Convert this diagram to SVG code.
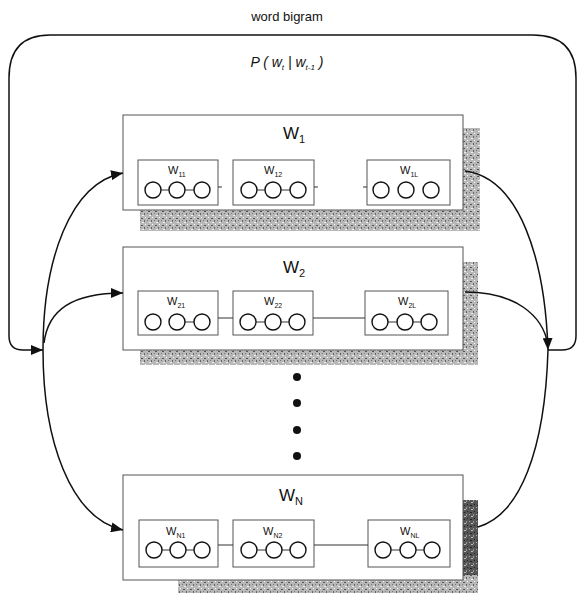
<svg xmlns="http://www.w3.org/2000/svg" width="579" height="593" viewBox="0 0 579 593">
<style>
.frame{fill:#fff;stroke:#555;stroke-width:1}
.sub{fill:#fff;stroke:#555;stroke-width:1}
.c{fill:#fff;stroke:#111;stroke-width:1.4}
.ln{stroke:#333;stroke-width:1;fill:none}
.conn{fill:none;stroke:#111;stroke-width:1.5}
.t{font-family:"Liberation Sans",Arial,sans-serif;fill:#111}
.big{font-size:17px}
.small{font-size:11px}
.dot{fill:#111}
</style>
<defs>
<marker id="ah" markerUnits="userSpaceOnUse" markerWidth="13" markerHeight="10" refX="12" refY="5" orient="auto">
<path d="M0,0 L12,5 L0,10 z" fill="#111"/>
</marker>
<pattern id="speck" width="7" height="7" patternUnits="userSpaceOnUse">
<rect width="7" height="7" fill="#b8b8b8"/>
<rect x="1" y="1" width="2" height="1" fill="#555"/>
<rect x="4" y="3" width="1" height="2" fill="#666"/>
<rect x="2" y="5" width="2" height="1" fill="#eee"/>
<rect x="5" y="0" width="1" height="1" fill="#fff"/>
<rect x="0" y="3" width="1" height="1" fill="#777"/>
</pattern>
<pattern id="speckDark" width="7" height="7" patternUnits="userSpaceOnUse">
<rect width="7" height="7" fill="#555"/>
<rect x="1" y="1" width="2" height="1" fill="#222"/>
<rect x="4" y="3" width="1" height="2" fill="#999"/>
<rect x="2" y="5" width="2" height="1" fill="#bbb"/>
<rect x="5" y="0" width="1" height="1" fill="#222"/>
<rect x="0" y="3" width="1" height="1" fill="#aaa"/>
</pattern>
</defs>

<g id="title">
<text class="t" x="287" y="21" font-size="13" text-anchor="middle">word bigram</text>
<text class="t" x="287" y="67" font-size="14" font-style="italic" text-anchor="middle">P ( w<tspan font-size="8" dy="3">t</tspan><tspan dy="-3"> | w</tspan><tspan font-size="8" dy="3">t-1</tspan><tspan dy="-3"> )</tspan></text>
</g>

<g id="W1">
<rect x="140" y="128" width="340" height="103" fill="url(#speck)"/>
<rect class="frame" x="123" y="115" width="340" height="95"/>
<text class="t big" x="283" y="139">W<tspan font-size="11" dy="4">1</tspan></text>
<g id="W11">
<rect class="sub" x="138" y="160" width="80" height="45"/>
<text class="t small" x="168" y="174">W<tspan font-size="7" dy="3">11</tspan></text>
<line class="ln" x1="153" y1="190" x2="202" y2="190"/>
<circle class="c" cx="153" cy="190" r="8"/><circle class="c" cx="177" cy="190" r="8"/><circle class="c" cx="202" cy="190" r="8"/>
</g>
<g id="W12">
<rect class="sub" x="233" y="160" width="81" height="45"/>
<text class="t small" x="264" y="174">W<tspan font-size="7" dy="3">12</tspan></text>
<line class="ln" x1="249" y1="190" x2="298" y2="190"/>
<circle class="c" cx="249" cy="190" r="8"/><circle class="c" cx="273" cy="190" r="8"/><circle class="c" cx="298" cy="190" r="8"/>
</g>
<g id="W1L">
<rect class="sub" x="367" y="160" width="83" height="45"/>
<text class="t small" x="400" y="174">W<tspan font-size="7" dy="3">1L</tspan></text>
<circle class="c" cx="381" cy="190" r="8"/><circle class="c" cx="406" cy="190" r="8"/><circle class="c" cx="431" cy="190" r="8"/>
</g>
<line class="ln" x1="218" y1="187" x2="222" y2="187"/>
<line class="ln" x1="314" y1="187" x2="318" y2="187"/>
<line class="ln" x1="363" y1="187" x2="367" y2="187"/>
</g>

<g id="W2">
<rect x="140" y="262" width="338" height="103" fill="url(#speck)"/>
<rect class="frame" x="123" y="247" width="340" height="103"/>
<text class="t big" x="283" y="273">W<tspan font-size="11" dy="4">2</tspan></text>
<g id="W21">
<rect class="sub" x="138" y="291" width="80" height="44"/>
<text class="t small" x="167" y="305">W<tspan font-size="7" dy="3">21</tspan></text>
<line class="ln" x1="177" y1="322" x2="202" y2="322"/>
<circle class="c" cx="153" cy="322" r="8"/><circle class="c" cx="177" cy="322" r="8"/><circle class="c" cx="202" cy="322" r="8"/>
</g>
<g id="W22">
<rect class="sub" x="233" y="291" width="80" height="44"/>
<text class="t small" x="264" y="305">W<tspan font-size="7" dy="3">22</tspan></text>
<line class="ln" x1="248" y1="322" x2="297" y2="322"/>
<circle class="c" cx="248" cy="322" r="8"/><circle class="c" cx="273" cy="322" r="8"/><circle class="c" cx="297" cy="322" r="8"/>
</g>
<g id="W2L">
<rect class="sub" x="365" y="291" width="83" height="44"/>
<text class="t small" x="398" y="305">W<tspan font-size="7" dy="3">2L</tspan></text>
<line class="ln" x1="380" y1="322" x2="429" y2="322"/>
<circle class="c" cx="380" cy="322" r="8"/><circle class="c" cx="405" cy="322" r="8"/><circle class="c" cx="429" cy="322" r="8"/>
</g>
<line class="ln" x1="218" y1="318" x2="233" y2="318"/>
<line class="ln" x1="313" y1="318" x2="365" y2="318"/>
</g>

<g id="dots">
<circle class="dot" cx="297" cy="377" r="4"/>
<circle class="dot" cx="297" cy="403" r="4"/>
<circle class="dot" cx="297" cy="430" r="4"/>
<circle class="dot" cx="297" cy="456" r="4"/>
</g>

<g id="WN">
<rect x="178" y="500" width="300" height="93" fill="url(#speckDark)"/>
<rect x="178" y="575" width="300" height="18" fill="url(#speck)"/>
<rect class="frame" x="123" y="475" width="340" height="105"/>
<text class="t big" x="279" y="501">W<tspan font-size="11" dy="4">N</tspan></text>
<g id="WN1">
<rect class="sub" x="139" y="520" width="79" height="47"/>
<text class="t small" x="166" y="535">W<tspan font-size="7" dy="3">N1</tspan></text>
<line class="ln" x1="154" y1="550" x2="202" y2="550"/>
<circle class="c" cx="154" cy="550" r="8"/><circle class="c" cx="178" cy="550" r="8"/><circle class="c" cx="202" cy="550" r="8"/>
</g>
<g id="WN2">
<rect class="sub" x="233" y="520" width="81" height="47"/>
<text class="t small" x="263" y="535">W<tspan font-size="7" dy="3">N2</tspan></text>
<line class="ln" x1="249" y1="550" x2="298" y2="550"/>
<circle class="c" cx="249" cy="550" r="8"/><circle class="c" cx="274" cy="550" r="8"/><circle class="c" cx="298" cy="550" r="8"/>
</g>
<g id="WNL">
<rect class="sub" x="368" y="520" width="82" height="47"/>
<text class="t small" x="400" y="535">W<tspan font-size="7" dy="3">NL</tspan></text>
<line class="ln" x1="383" y1="550" x2="432" y2="550"/>
<circle class="c" cx="383" cy="550" r="8"/><circle class="c" cx="408" cy="550" r="8"/><circle class="c" cx="432" cy="550" r="8"/>
</g>
<line class="ln" x1="218" y1="545" x2="233" y2="545"/>
<line class="ln" x1="314" y1="545" x2="368" y2="545"/>
</g>

<g id="connectors">
<path class="conn" d="M548,350 L562,350 Q576,350 576,336 L576,78 Q576,35 533,35 L50,35 Q9,35 9,78 L9,336 Q9,350 23,350 L43,350" marker-end="url(#ah)"/>
<path class="conn" d="M43,350 C43,260 70,183 123,173" marker-end="url(#ah)"/>
<path class="conn" d="M44,343 C48,310 72,293 123,293" marker-end="url(#ah)"/>
<path class="conn" d="M43,350 C43,440 70,518 123,530" marker-end="url(#ah)"/>
<path class="conn" d="M465,171 C520,178 545,260 548,350" marker-end="url(#ah)"/>
<path class="conn" d="M465,292 C515,292 543,315 548,345"/>
<path class="conn" d="M478,527 C520,515 545,450 548,350"/>
</g>
</svg>
